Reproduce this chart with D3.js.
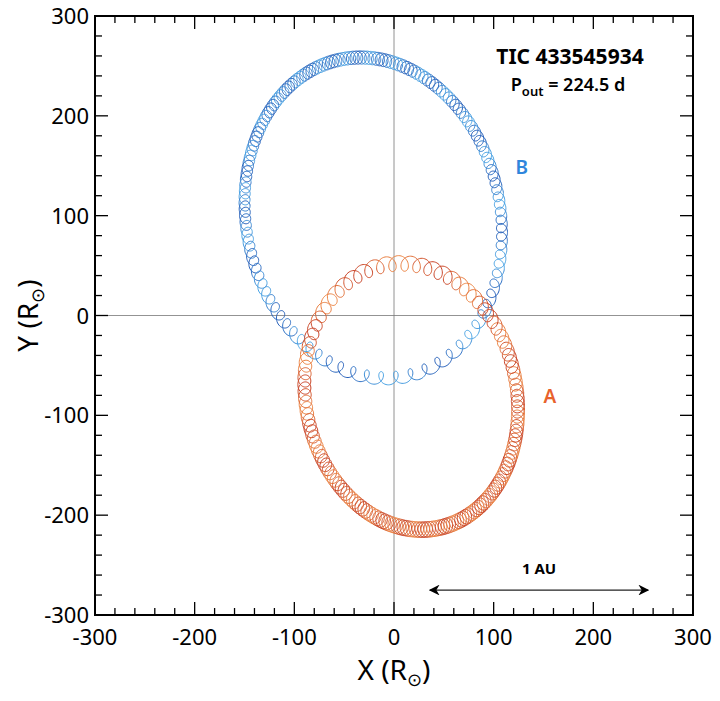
<!DOCTYPE html>
<html><head><meta charset="utf-8">
<script src="https://cdn.jsdelivr.net/npm/d3@7"></script>
<style>body{margin:0;background:#fff}text{font-family:"Noto Sans",sans-serif}</style>
</head><body><div id="chart"></div>
<script>
// axis ticks
const majorTicks = [-300, -200, -100, 0, 100, 200, 300];
const minorTicks = d3.range(-300, 301, 20);

// outer orbit elements (star B, A is the mirrored orbit)
const orbitNames = ["B", "A"];
const orbitScale = [1, -0.83];           // A = -q * B about the centre of mass
const semiMajorB = 162;                  // R_sun
const eccentricity = 0.617;
const periDirDeg = -78;                  // direction of B periastron
const loopCount = 140;                   // inner orbits per outer period
const loopRadius = [5.5, 6.5];
const lineColor = ["#2f86dc", "#e8622c"];
const lightColor = ["#66c4ee", "#f3aa5c"];
const darkColor = ["#1a3596", "#a8201f"];
const starLabel = [{ name: "B", x: 122, y: 142 }, { name: "A", x: 150, y: -88 }];
const auArrow = [36, 255];
const auY = -275;

const W = 720, H = 701;
const m = { left: 95, right: 27, top: 16, bottom: 86 };
const x = d3.scaleLinear().domain([-300, 300]).range([m.left, W - m.right]);
const y = d3.scaleLinear().domain([-300, 300]).range([H - m.bottom, m.top]);

const svg = d3.select("#chart").append("svg").attr("width", W).attr("height", H);
svg.append("defs").append("clipPath").attr("id", "clip")
  .append("rect").attr("x", x(-300)).attr("y", y(300))
  .attr("width", x(300) - x(-300)).attr("height", y(-300) - y(300));

// zero lines
svg.append("line").attr("x1", x(0)).attr("x2", x(0)).attr("y1", y(300)).attr("y2", y(-300))
  .attr("stroke", "#777").attr("stroke-width", 0.8);
svg.append("line").attr("x1", x(-300)).attr("x2", x(300)).attr("y1", y(0)).attr("y2", y(0))
  .attr("stroke", "#777").attr("stroke-width", 0.8);

function kepler(M, e) {
  let E = M;
  for (let k = 0; k < 30; k++) E = E - (E - e * Math.sin(E) - M) / (1 - e * Math.cos(E));
  return E;
}
const phi = periDirDeg * Math.PI / 180;
const bAxis = semiMajorB * Math.sqrt(1 - eccentricity ** 2);

const g = svg.append("g").attr("clip-path", "url(#clip)");
const stepsPerLoop = 40;
orbitNames.forEach((name, s) => {
  const col = d3.interpolateRgb(lightColor[s], darkColor[s]);
  for (let L = 0; L < loopCount; L++) {
    const pts = [];
    for (let j = 0; j <= stepsPerLoop; j++) {
      const t = (L + j / stepsPerLoop) / loopCount;
      const E = kepler(2 * Math.PI * t, eccentricity);
      const px = semiMajorB * (Math.cos(E) - eccentricity), py = bAxis * Math.sin(E);
      const ox = orbitScale[s] * (px * Math.cos(phi) - py * Math.sin(phi));
      const oy = orbitScale[s] * (px * Math.sin(phi) + py * Math.cos(phi));
      const a = 2 * Math.PI * j / stepsPerLoop + (s ? Math.PI : 0);
      pts.push([ox + loopRadius[s] * Math.cos(a), oy + 1.2 * loopRadius[s] * Math.sin(a)]);
    }
    const shade = 0.5 + 0.5 * Math.sin(2 * Math.PI * L / 7);
    g.append("path")
      .attr("d", d3.line().x(d => x(d[0])).y(d => y(d[1])).curve(d3.curveCatmullRom)(pts))
      .attr("fill", "none")
      .attr("stroke", d3.interpolateRgb(lineColor[s], col(shade))(0.5))
      .attr("stroke-width", 1);
  }
});

// frame and inward ticks
svg.append("rect").attr("x", x(-300)).attr("y", y(300))
  .attr("width", x(300) - x(-300)).attr("height", y(-300) - y(300))
  .attr("fill", "none").attr("stroke", "#000").attr("stroke-width", 2);
const tk = svg.append("g").attr("stroke", "#000").attr("stroke-width", 1.3);
minorTicks.forEach(v => {
  const len = majorTicks.includes(v) ? 13 : 7;
  tk.append("line").attr("x1", x(v)).attr("x2", x(v)).attr("y1", y(-300)).attr("y2", y(-300) - len);
  tk.append("line").attr("x1", x(v)).attr("x2", x(v)).attr("y1", y(300)).attr("y2", y(300) + len);
  tk.append("line").attr("y1", y(v)).attr("y2", y(v)).attr("x1", x(-300)).attr("x2", x(-300) + len);
  tk.append("line").attr("y1", y(v)).attr("y2", y(v)).attr("x1", x(300)).attr("x2", x(300) - len);
});
majorTicks.forEach(v => {
  svg.append("text").attr("x", x(v)).attr("y", y(-300) + 30).attr("text-anchor", "middle")
    .attr("font-size", 22).text(v);
  svg.append("text").attr("x", x(-300) - 6).attr("y", y(v) + 8).attr("text-anchor", "end")
    .attr("font-size", 22).text(v);
});

// axis titles
const xt = svg.append("text").attr("x", x(0)).attr("y", 680).attr("text-anchor", "middle").attr("font-size", 28);
xt.append("tspan").text("X (R");
xt.append("tspan").attr("font-size", 18).attr("dy", 6).text("⊙");
xt.append("tspan").attr("dy", -6).text(")");
const yt = svg.append("text").attr("transform", `translate(38,${y(0)}) rotate(-90)`)
  .attr("text-anchor", "middle").attr("font-size", 28);
yt.append("tspan").text("Y (R");
yt.append("tspan").attr("font-size", 18).attr("dy", 6).text("⊙");
yt.append("tspan").attr("dy", -6).text(")");

// title
svg.append("text").attr("x", 570).attr("y", 64).attr("text-anchor", "middle")
  .attr("font-size", 21).attr("font-weight", "bold").text("TIC 433545934");
const pt = svg.append("text").attr("x", 568).attr("y", 91).attr("text-anchor", "middle")
  .attr("font-size", 18).attr("font-weight", 600);
pt.append("tspan").text("P");
pt.append("tspan").attr("font-size", 13).attr("dy", 5).text("out");
pt.append("tspan").attr("dy", -5).text(" = 224.5 d");

starLabel.forEach((d, i) => svg.append("text").attr("x", x(d.x)).attr("y", y(d.y))
  .attr("font-size", 19).attr("font-weight", 600).attr("fill", lineColor[i]).text(d.name));

// 1 AU arrow
const mk = svg.select("defs").append("marker").attr("id", "ah").attr("viewBox", "0 0 10 10")
  .attr("refX", 9).attr("refY", 5).attr("markerWidth", 9).attr("markerHeight", 9)
  .attr("orient", "auto-start-reverse");
mk.append("path").attr("d", "M0,0 L10,5 L0,10 L3,5 Z").attr("fill", "#000");
svg.append("line").attr("x1", x(auArrow[0])).attr("x2", x(auArrow[1])).attr("y1", y(auY)).attr("y2", y(auY))
  .attr("stroke", "#222").attr("stroke-width", 1.2)
  .attr("marker-start", "url(#ah)").attr("marker-end", "url(#ah)");
svg.append("text").attr("x", x((auArrow[0] + auArrow[1]) / 2)).attr("y", y(auY) - 16)
  .attr("text-anchor", "middle").attr("font-size", 15).attr("font-weight", "bold").text("1 AU");
</script></body></html>
